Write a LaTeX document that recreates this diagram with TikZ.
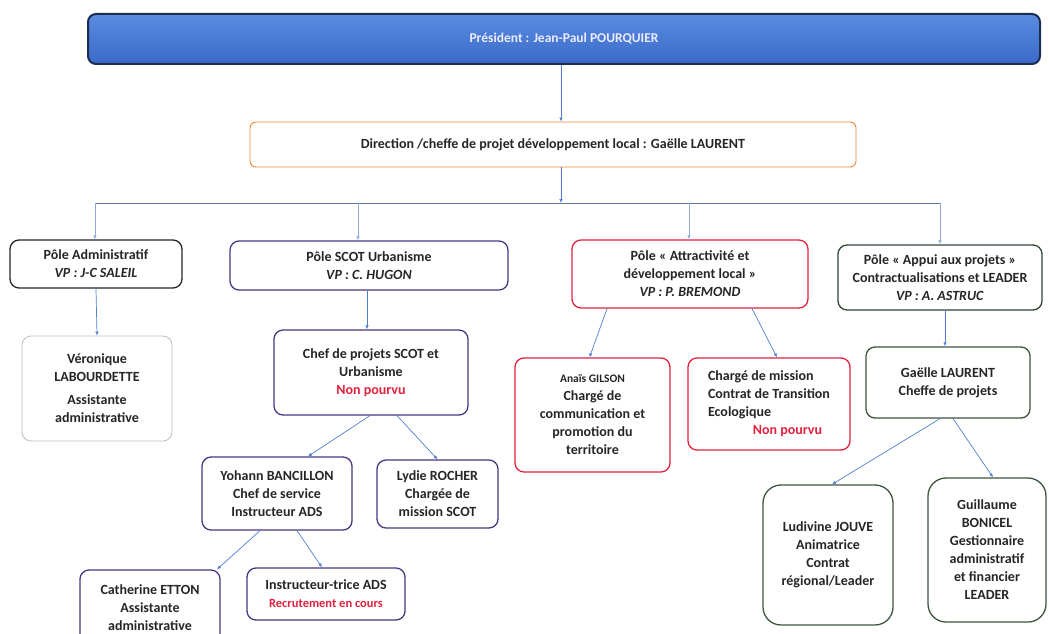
\documentclass[tikz,border=0pt]{standalone}
\usepackage{fontspec}
\setmainfont{Carlito}
\usepackage{tikz}
\usetikzlibrary{arrows.meta}
\tikzset{>={Latex[length=4pt,width=3.5pt]}}
\definecolor{lienbleu}{HTML}{4F7FD0}
\definecolor{lienclair}{HTML}{8FA9DD}
\definecolor{violet}{HTML}{4A3680}
\definecolor{rouge}{HTML}{E2213F}
\definecolor{vert}{HTML}{3E5540}
\definecolor{orange}{HTML}{EE8533}
\definecolor{marine}{HTML}{1D2C52}
\definecolor{bleuhaut}{HTML}{5A8CE0}
\definecolor{bleubas}{HTML}{3A6AC8}
\tikzstyle{box} = [rectangle, rounded corners=9pt, draw, line width=1.3pt,
    fill=white, align=center, inner sep=2pt,
    font=\fontsize{14}{18}\selectfont\bfseries, text=black!85]
\tikzstyle{lien} = [->, lienbleu, line width=0.7pt]
\tikzstyle{chute} = [->, lienclair, line width=0.7pt]

\begin{document}
\begin{tikzpicture}[x=1pt,y=-1pt]
\useasboundingbox (0,0) rectangle (1049,634);
    % direction
    \node[box, rounded corners=8pt, draw=marine, line width=2pt,
        top color=bleuhaut, bottom color=bleubas,
        text=blue!8, font=\fontsize{13.5}{16}\selectfont\bfseries,
        minimum width=952pt, minimum height=50pt] (pres) at (564,39)
        {Président : Jean-Paul POURQUIER};
    \node[box, rounded corners=6pt, draw=orange, line width=0.9pt,
        minimum width=606pt, minimum height=45pt] (dir) at (553,144.5)
        {Direction /cheffe de projet développement local : Gaëlle LAURENT};
    % poles
    \node[box, draw=black!85, minimum width=172pt, minimum height=48pt] (padm) at (96,264)
        {Pôle Administratif\\\textit{VP : J-C SALEIL}};
    \node[box, draw=violet, minimum width=278pt, minimum height=49pt] (pscot) at (369,265.5)
        {Pôle SCOT Urbanisme\\\textit{VP : C. HUGON}};
    \node[box, draw=rouge, minimum width=236pt, minimum height=68pt] (patt) at (690,274)
        {Pôle « Attractivité et\\développement local »\\\textit{VP : P. BREMOND}};
    \node[box, draw=vert!80!black, minimum width=204pt, minimum height=65pt] (papp) at (940,277.5)
        {Pôle « Appui aux projets »\\Contractualisations et LEADER\\\textit{VP : A. ASTRUC}};
    % agents
    \node[box, draw=black!25, line width=0.8pt, minimum width=150pt, minimum height=105pt] (vero) at (97,388.5)
        {Véronique\\LABOURDETTE\\[5pt]Assistante\\administrative};
    \node[box, draw=violet, minimum width=194pt, minimum height=85pt] (chefscot) at (371,372.5)
        {Chef de projets SCOT et\\Urbanisme\\\textcolor{rouge}{Non pourvu}};
    \node[box, draw=rouge, minimum width=155pt, minimum height=114pt] (anais) at (592.5,415)
        {{\fontsize{11.5}{15}\selectfont Anaïs GILSON}\\Chargé de\\communication et\\promotion du\\territoire};
    \node[box, draw=rouge, align=left, minimum width=162pt, minimum height=92pt] (cte) at (769,404)
        {Chargé de mission\\Contrat de Transition\\Ecologique\\\hspace*{3.2em}\textcolor{rouge}{Non pourvu}};
    \node[box, draw=vert, minimum width=164pt, minimum height=71pt] (gaelle) at (948,382.5)
        {Gaëlle LAURENT\\Cheffe de projets};
    \node[box, draw=violet, minimum width=150pt, minimum height=73pt] (yohann) at (277,493.5)
        {Yohann BANCILLON\\Chef de service\\Instructeur ADS};
    \node[box, draw=violet, minimum width=121pt, minimum height=68pt] (lydie) at (437.5,494)
        {Lydie ROCHER\\Chargée de\\mission SCOT};
    \node[box, draw=violet, minimum width=140pt, minimum height=75pt, text depth=0pt] (cath) at (150,607.5)
        {Catherine ETTON\\Assistante\\administrative};
    \node[box, draw=violet, minimum width=158pt, minimum height=52pt] (instr) at (326,594)
        {Instructeur-trice ADS\\\textcolor{rouge}{\fontsize{12.5}{16}\selectfont Recrutement en cours}};
    \node[box, rounded corners=18pt, draw=vert, minimum width=130pt, minimum height=140pt] (ludi) at (828,555)
        {Ludivine JOUVE\\Animatrice\\Contrat\\régional/Leader};
    \node[box, rounded corners=18pt, draw=vert, minimum width=118pt, minimum height=144pt] (guil) at (987,550)
        {Guillaume\\BONICEL\\Gestionnaire\\administratif\\et financier\\LEADER};
    % barre de repartition
    \coordinate (j) at (561,203);
    \coordinate (b1) at (95,203);
    \coordinate (b2) at (358,203);
    \coordinate (b3) at (689,203);
    \coordinate (b4) at (940,203);
    \draw[lien] (j |- pres.south) -- (j |- dir.north);
    \draw[lien] (j |- dir.south) -- (j);
    \draw[lienbleu!70!black!80, line width=0.7pt] (b1) -- (b4);
    \draw[chute] (b1) -- (b1 |- padm.north);
    \draw[chute] (b2) -- (b2 |- pscot.north);
    \draw[chute] (b3) -- (b3 |- patt.north);
    \draw[chute] (b4) -- (b4 |- papp.north);
    % liens
    \draw[lien] (padm.south) -- (vero.north);
    \draw[lien] ([xshift=-2pt]pscot.south) -- ([xshift=-4pt]chefscot.north);
    \draw[lien] ([xshift=-83pt]patt.south) -- ([xshift=-3pt]anais.north);
    \draw[lien] ([xshift=62pt]patt.south) -- ([xshift=8pt]cte.north);
    \draw[lien] ([xshift=5pt]papp.south) -- ([xshift=-3pt]gaelle.north);
    \draw[lien] ([xshift=-1pt]chefscot.south) -- ([xshift=31pt]yohann.north);
    \draw[lien] ([xshift=26pt]chefscot.south) -- (lydie.north);
    \draw[lien] ([xshift=-17pt]yohann.south) -- ([xshift=67pt]cath.north);
    \draw[lien] ([xshift=20pt]yohann.south) -- ([xshift=-4pt]instr.north);
    \draw[lien] ([xshift=-8pt]gaelle.south) -- ([xshift=4pt]ludi.north);
    \draw[lien] ([xshift=5pt]gaelle.south) -- ([xshift=6pt]guil.north);
\end{tikzpicture}
\end{document}
